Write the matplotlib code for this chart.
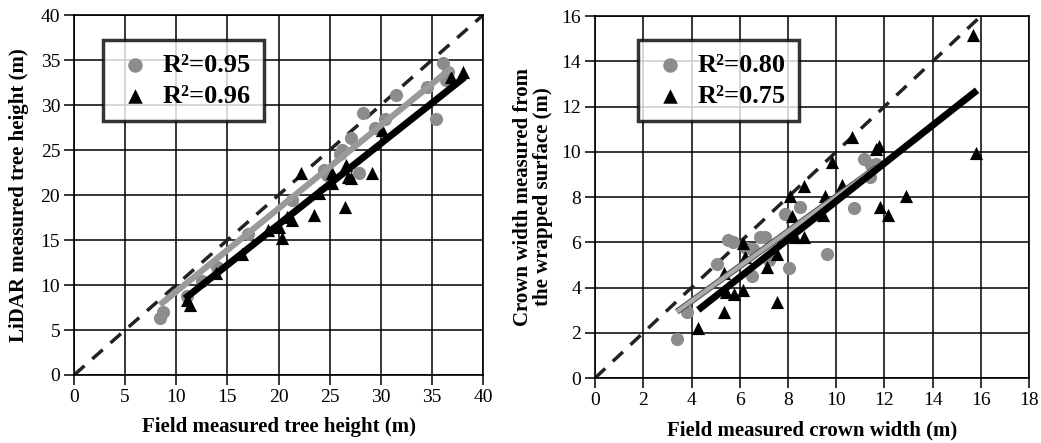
import numpy as np
import matplotlib
matplotlib.use('Agg')
import matplotlib.pyplot as plt
import matplotlib.patheffects as pe

plt.rcParams['font.family'] = 'Liberation Serif'

# tree height panel
h_field_lidar = [8.4, 8.7, 11.0, 12.5, 14.0, 17.0, 21.3, 24.4, 24.7, 26.0, 26.2, 27.1, 27.9,
                 28.3, 29.4, 30.4, 31.5, 34.5, 35.4, 36.1, 36.4, 36.6]
h_lidar = [6.3, 7.0, 8.8, 10.5, 12.0, 15.7, 19.4, 22.8, 22.2, 24.6, 25.0, 26.3, 22.4,
           29.1, 27.4, 28.5, 31.1, 32.0, 28.4, 34.7, 32.8, 33.7]
h_field_wrap = [11.0, 11.3, 13.9, 16.4, 19.0, 20.0, 20.3, 20.8, 21.3, 22.2, 23.5, 24.0, 25.2,
                25.2, 26.5, 26.6, 26.8, 27.1, 29.1, 30.1, 36.9, 38.0]
h_wrap = [8.3, 7.8, 11.3, 13.5, 16.1, 16.5, 15.2, 17.6, 17.2, 22.4, 17.8, 20.2, 21.3,
          22.4, 18.7, 23.3, 22.0, 21.9, 22.4, 27.2, 33.1, 33.7]
h_fit_lidar_x, h_fit_lidar_y = [8.4, 36.9], [7.8, 34.1]
h_fit_wrap_x, h_fit_wrap_y = [10.85, 38.2], [8.5, 33.1]
h_r2 = ['0.95', '0.96']

# crown width panel
c_field_lidar = [3.38, 3.8, 5.04, 5.5, 5.73, 6.28, 6.56, 6.5, 6.84, 7.04, 7.2, 7.87, 8.05,
                 8.5, 9.6, 10.73, 11.16, 11.4, 11.46, 11.67]
c_lidar = [1.72, 2.9, 5.03, 6.1, 6.0, 5.74, 5.7, 4.5, 6.25, 6.22, 5.2, 7.25, 4.85,
           7.57, 5.47, 7.53, 9.68, 8.9, 9.41, 9.44]
c_field_wrap = [4.28, 5.36, 5.36, 5.41, 5.76, 6.15, 6.2, 6.15, 7.14, 7.53, 7.56, 8.08, 8.18,
                8.29, 8.66, 8.66, 9.45, 9.53, 9.83, 10.25, 10.64, 11.64, 11.77, 11.81,
                12.15, 12.91, 15.68, 15.8]
c_wrap = [2.2, 2.94, 4.63, 3.8, 3.72, 3.9, 5.37, 5.96, 4.9, 3.38, 5.49, 8.04, 7.16,
          6.25, 6.22, 8.5, 7.2, 8.06, 9.56, 8.53, 10.66, 10.12, 10.26, 7.57,
          7.2, 8.04, 15.18, 9.96]
c_fit_lidar_x, c_fit_lidar_y = [3.39, 11.7], [2.93, 9.33]
c_fit_wrap_x, c_fit_wrap_y = [4.28, 15.84], [3.01, 12.72]
c_r2 = ['0.80', '0.75']

gray = '#8c8c8c'

fig = plt.figure(figsize=(10.41, 4.43), dpi=100)
ax1 = fig.add_axes([0.0711, 0.1535, 0.393, 0.8126])
ax2 = fig.add_axes([0.5716, 0.1467, 0.417, 0.817])


def panel(ax, lim, step, xs1, ys1, xs2, ys2, f1x, f1y, f2x, f2y, r2, fit1_color, outline, legpos):
    ax.plot([0, lim[1]], [0, lim[1]], color='#222222', lw=2.5, ls=(0, (4, 3)), zorder=2)
    ax.scatter(xs1, ys1, s=90, color=gray, marker='o', zorder=3, linewidths=0,
               label='R²=' + r2[0])
    ax.scatter(xs2, ys2, s=90, color='black', marker='^', zorder=3, linewidths=0,
               label='R²=' + r2[1])
    l1, = ax.plot(f1x, f1y, color=fit1_color, lw=4.5 if not outline else 3, zorder=4,
                  solid_capstyle='butt')
    if outline:
        l1.set_path_effects([pe.Stroke(linewidth=4.5, foreground='#555555'), pe.Normal()])
    ax.plot(f2x, f2y, color='black', lw=5, zorder=5, solid_capstyle='butt')
    ax.set_xlim(0, lim[0])
    ax.set_ylim(0, lim[1])
    ax.set_xticks(np.arange(0, lim[0] + 0.1, step))
    ax.set_yticks(np.arange(0, lim[1] + 0.1, step))
    ax.grid(True, color='black', lw=1.1)
    ax.set_axisbelow(True)
    for s in ax.spines.values():
        s.set_linewidth(1.2)
    ax.tick_params(direction='out', length=7, width=1.1, labelsize=14, pad=3)
    leg = ax.legend(loc='upper left', bbox_to_anchor=legpos, borderaxespad=0,
                    frameon=True, fancybox=False,
                    edgecolor='black', prop={'weight': 'bold', 'size': 19},
                    handletextpad=0.35, borderpad=0.5, labelspacing=0.3, handlelength=1.4,
                    markerscale=1.1)
    leg.get_frame().set_linewidth(2.5)
    leg.set_zorder(6)


panel(ax1, (40, 40), 5, h_field_lidar, h_lidar, h_field_wrap, h_wrap,
      h_fit_lidar_x, h_fit_lidar_y, h_fit_wrap_x, h_fit_wrap_y, h_r2, '#9a9a9a', False,
      (0.071, 0.93))
panel(ax2, (18, 16), 2, c_field_lidar, c_lidar, c_field_wrap, c_wrap,
      c_fit_lidar_x, c_fit_lidar_y, c_fit_wrap_x, c_fit_wrap_y, c_r2, '#aaaaaa', True,
      (0.099, 0.934))

ax1.set_xlabel('Field measured tree height (m)', fontsize=15, fontweight='bold', labelpad=8)
ax1.set_ylabel('LiDAR measured tree height (m)', fontsize=15, fontweight='bold', labelpad=8)
ax2.set_xlabel('Field measured crown width (m)', fontsize=15, fontweight='bold', labelpad=8)
ax2.set_ylabel('Crown width measured from\nthe wrapped surface (m)', fontsize=15,
               fontweight='bold', labelpad=6, linespacing=1.0)

fig.savefig('out.png', dpi=100)
